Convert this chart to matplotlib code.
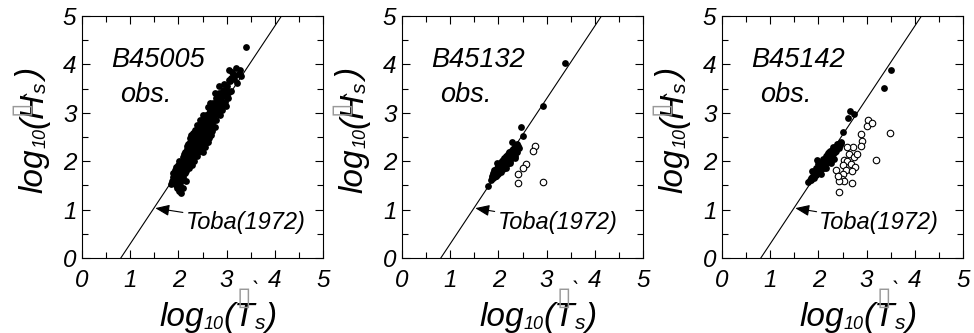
import matplotlib

matplotlib.use("Agg")
import matplotlib.pyplot as plt
from matplotlib.ticker import MultipleLocator
import numpy as np

plt.rcParams["font.family"] = ["Liberation Sans", "DejaVu Sans"]
plt.rcParams["font.style"] = "italic"

# Buoy names
STATIONS = ["B45005", "B45132", "B45142"]

# Toba (1972) 3/2 law: H = B * T^(3/2)
TOBA_B = 0.062
TOBA_POWER = 1.5

# B45005 observations (log10 T*, log10 H*), filled
b45005_x = [1.84, 1.86, 1.88, 1.90, 1.92, 1.95, 1.97, 1.98, 2.02, 2.05, 2.04, 2.00, 2.03, 2.06,
            2.08, 2.10, 2.12, 2.14, 2.15, 2.18, 2.20, 2.22, 2.24, 2.26, 2.28, 2.30, 2.32, 2.34,
            2.36, 2.38, 2.40, 2.42, 2.44, 2.45, 2.47, 2.50, 2.52, 2.54, 2.55, 2.57, 2.60, 2.62,
            2.64, 2.66, 2.68, 2.70, 2.72, 2.75, 2.78, 2.80, 2.84, 2.88, 2.92, 2.95, 3.00, 3.05,
            3.08, 3.12, 3.16, 3.20, 3.25, 3.30, 3.22, 3.40,
            2.25, 2.35, 2.30, 2.20, 2.40, 2.45, 2.50, 2.55, 2.48, 2.60, 2.62, 2.58, 2.70, 2.65,
            2.35, 2.28, 2.18, 2.12, 2.08, 2.16, 2.25, 2.20, 2.02, 1.96, 2.42, 2.52, 2.75, 2.85,
            2.90, 2.66, 3.02, 2.55, 2.38, 2.15, 2.10, 2.00, 1.94, 1.90, 2.07, 2.33, 2.46, 2.72,
            2.82, 2.98, 3.10, 3.14, 3.05, 2.26, 2.44, 2.62, 2.58, 2.36,
            1.88, 1.93, 1.99, 2.05, 2.10, 2.14, 2.19, 2.23, 2.27, 2.31, 2.33, 2.37, 2.41, 2.43,
            2.46, 2.49, 2.51, 2.53, 2.56, 2.59, 2.61, 2.63, 2.67, 2.69, 2.71, 2.73, 2.76, 2.79,
            2.81, 2.83, 2.86, 2.89, 2.93, 2.96, 2.99, 2.94, 3.04, 3.10, 2.40, 2.48, 2.64, 2.70,
            2.78, 2.24, 2.30, 2.38, 2.44, 2.19, 2.28, 2.13, 2.07, 1.97, 1.92, 2.22, 2.32, 2.50,
            2.60, 2.68, 2.76, 2.86, 2.92, 3.00, 3.18, 3.28, 2.17, 2.26, 2.34, 2.52, 2.65, 2.62]
b45005_y = [1.52, 1.60, 1.68, 1.55, 1.72, 1.62, 1.80, 1.45, 1.38, 1.35, 1.50, 1.70, 1.85, 1.78,
            1.95, 1.68, 2.02, 1.88, 2.10, 1.98, 2.20, 2.05, 2.28, 2.15, 2.35, 2.22, 2.45, 2.30,
            2.52, 2.40, 2.60, 2.48, 2.35, 2.68, 2.55, 2.75, 2.62, 2.45, 2.85, 2.70, 2.92, 2.78,
            3.00, 2.85, 3.10, 2.95, 3.20, 3.05, 3.30, 3.15, 3.40, 3.25, 3.48, 3.35, 3.55, 3.42,
            3.65, 3.85, 3.70, 3.92, 3.80, 3.75, 3.62, 4.35,
            2.40, 2.20, 2.05, 2.35, 2.30, 2.50, 2.40, 2.60, 2.80, 2.65, 2.55, 2.95, 2.80, 2.72,
            2.65, 2.50, 2.25, 2.15, 1.88, 1.80, 1.95, 1.90, 2.00, 1.88, 2.72, 2.95, 3.40, 3.55,
            3.05, 3.20, 3.30, 2.30, 2.10, 1.60, 1.45, 1.55, 1.50, 1.60, 1.62, 2.38, 2.42, 2.70,
            2.98, 3.15, 3.45, 3.75, 3.88, 2.10, 2.25, 2.40, 2.75, 2.12,
            1.75, 1.82, 1.93, 1.98, 2.08, 2.20, 2.12, 2.00, 2.22, 2.32, 2.15, 2.35, 2.40, 2.58,
            2.62, 2.45, 2.68, 2.52, 2.75, 2.58, 2.85, 2.70, 2.92, 2.78, 3.02, 2.90, 3.12, 3.00,
            3.25, 3.08, 3.30, 3.15, 3.38, 3.22, 3.45, 3.60, 3.68, 3.72, 2.20, 2.35, 2.48, 2.62,
            2.85, 2.48, 2.58, 2.75, 2.85, 2.05, 1.92, 1.75, 1.62, 1.68, 1.58, 1.85, 2.00, 2.18,
            2.40, 2.55, 2.70, 2.95, 3.18, 3.35, 3.78, 3.88, 2.32, 2.55, 2.48, 2.85, 3.05, 3.12]
b45005_ox = []
b45005_oy = []

# B45132 observations, filled and open
b45132_x = [1.78, 1.84, 1.86, 1.88, 1.90, 1.92, 1.94, 1.96, 1.98, 2.00, 2.02, 2.04, 2.06, 2.08,
            2.10, 2.12, 2.14, 2.16, 2.18, 2.20, 2.22, 2.24, 2.26, 2.28, 2.30, 2.33, 2.36, 2.40,
            1.90, 1.95, 2.00, 2.05, 2.10, 2.15, 2.20, 2.25, 2.30, 2.35, 1.88, 1.98, 2.08, 2.18,
            2.28, 2.38, 2.29, 2.47, 2.50, 2.93, 3.38,
            1.86, 1.89, 1.91, 1.93, 1.95, 1.97, 1.99, 2.01, 2.03, 2.05, 2.07, 2.09, 2.11, 2.13,
            2.15, 2.17, 2.19, 2.21, 2.23, 2.25, 2.27, 2.29, 2.31, 2.33, 2.35, 2.37, 2.39, 2.42,
            2.04, 2.14, 2.24, 2.34, 1.96, 2.10]
b45132_y = [1.48, 1.62, 1.70, 1.66, 1.76, 1.72, 1.80, 1.76, 1.84, 1.80, 1.88, 1.84, 1.92, 1.88,
            1.96, 1.94, 2.00, 1.98, 2.04, 2.06, 2.08, 2.12, 2.14, 2.18, 2.20, 2.24, 2.28, 2.32,
            1.82, 1.70, 1.92, 1.78, 2.02, 1.86, 2.12, 1.96, 2.26, 2.06, 1.76, 1.96, 2.00, 1.94,
            2.08, 2.20, 2.40, 2.70, 2.53, 3.14, 4.02,
            1.66, 1.72, 1.68, 1.82, 1.78, 1.86, 1.74, 1.90, 1.96, 1.86, 2.00, 1.92, 2.06, 1.98,
            2.10, 2.04, 2.14, 2.00, 2.18, 2.08, 2.22, 2.12, 2.26, 2.16, 2.32, 2.22, 2.36, 2.28,
            1.80, 1.90, 2.00, 2.10, 1.70, 1.84]
b45132_ox = [2.76, 2.72, 2.57, 2.50, 2.41, 2.40, 2.92]
b45132_oy = [2.31, 2.21, 1.94, 1.85, 1.74, 1.54, 1.57]

# B45142 observations, filled and open
b45142_x = [1.79, 1.82, 1.85, 1.88, 1.90, 1.92, 1.94, 1.97, 2.00, 2.02, 2.04, 2.06, 2.08, 2.10,
            2.12, 2.14, 2.16, 2.18, 2.20, 2.22, 2.25, 2.28, 2.30, 2.33, 2.36, 2.40, 2.44, 2.47,
            1.95, 2.00, 2.05, 2.10, 2.15, 2.20, 2.25, 2.30, 2.35, 1.86, 2.12, 2.24, 2.38,
            1.97, 2.50, 2.62, 2.66, 2.73, 3.36, 3.50,
            1.84, 1.87, 1.91, 1.93, 1.96, 1.99, 2.01, 2.03, 2.06, 2.08, 2.11, 2.13, 2.16, 2.18,
            2.21, 2.23, 2.26, 2.28, 2.31, 2.34, 2.37, 2.40, 2.43, 2.46, 2.06, 2.16, 2.26, 2.32]
b45142_y = [1.58, 1.62, 1.66, 1.70, 1.74, 1.72, 1.78, 1.80, 1.84, 1.82, 1.88, 1.86, 1.92, 1.96,
            1.94, 2.00, 2.02, 2.06, 2.08, 2.10, 2.14, 2.18, 2.20, 2.24, 2.28, 2.30, 2.34, 2.38,
            1.86, 1.94, 1.96, 2.04, 2.10, 2.16, 2.22, 2.30, 2.20, 1.80, 1.86, 2.00, 2.36,
            2.03, 2.61, 2.89, 3.03, 2.97, 3.52, 3.88,
            1.62, 1.68, 1.66, 1.76, 1.72, 1.80, 1.76, 1.90, 1.84, 1.98, 1.90, 2.04, 1.96, 2.12,
            2.02, 2.18, 2.08, 2.24, 2.14, 2.30, 2.22, 2.36, 2.28, 2.40, 1.74, 1.86, 1.96, 2.05]
b45142_ox = [3.02, 3.00, 3.12, 3.48, 3.20, 2.88, 2.91, 2.89, 2.71, 2.64, 2.53, 2.60, 2.74, 2.52,
             2.67, 2.75, 2.57, 2.69, 2.50, 2.48, 2.53, 2.42, 2.69, 2.42, 2.60, 2.36, 2.40, 2.81]
b45142_oy = [2.85, 2.73, 2.78, 2.58, 2.03, 2.56, 2.42, 2.32, 2.29, 2.15, 2.03, 2.01, 2.08, 1.93,
             1.94, 1.88, 1.81, 1.79, 1.74, 1.63, 1.60, 1.60, 1.55, 1.36, 2.29, 1.81, 1.70, 2.15]

filled = [(b45005_x, b45005_y), (b45132_x, b45132_y), (b45142_x, b45142_y)]
hollow = [(b45005_ox, b45005_oy), (b45132_ox, b45132_oy), (b45142_ox, b45142_oy)]

# Where the "Toba(1972)" label starts in each panel
toba_text_x = [2.15, 1.98, 2.02]


def chain_label(ax, pieces, xy, rotation=0):
    # Write a label piece by piece so the subscripts can be small
    first = ax.text(xy[0], xy[1], pieces[0][0], transform=ax.transAxes, fontsize=pieces[0][1],
                    rotation=rotation, ha="left" if rotation == 0 else "right",
                    va="bottom", rotation_mode="default")
    prev = first
    for txt, size in pieces[1:]:
        if rotation == 0:
            prev = ax.annotate(txt, xy=(1, 0), xycoords=prev, fontsize=size,
                               ha="left", va="bottom")
        else:
            prev = ax.annotate(txt, xy=(1, 1), xycoords=prev, fontsize=size,
                               ha="right", va="bottom", rotation=rotation)
    return first


fig = plt.figure(figsize=(9.74, 3.33), dpi=100)
lefts = [82 / 974, 402 / 974, 722 / 974]

for i, name in enumerate(STATIONS):
    ax = fig.add_axes([lefts[i], 75 / 333, 241 / 974, 242 / 333])

    # Toba line
    xs = np.array([0.0, 5.0])
    ax.plot(xs, TOBA_POWER * xs + np.log10(TOBA_B), color="black", lw=0.8, zorder=2)

    # Observations
    fx, fy = filled[i]
    ax.scatter(fx, fy, s=24, color="black", linewidths=0, zorder=3)
    ox, oy = hollow[i]
    if ox:
        ax.scatter(ox, oy, s=22, facecolors="white", edgecolors="black", linewidths=0.8, zorder=3)

    # Customize
    ax.set_xlim(0, 5)
    ax.set_ylim(0, 5)
    ax.xaxis.set_major_locator(MultipleLocator(1))
    ax.yaxis.set_major_locator(MultipleLocator(1))
    ax.xaxis.set_minor_locator(MultipleLocator(0.5))
    ax.yaxis.set_minor_locator(MultipleLocator(0.5))
    ax.tick_params(which="both", direction="in", top=True, right=True, labelsize=17.5, width=0.8)
    ax.tick_params(which="major", length=6)
    ax.tick_params(which="minor", length=4.5)
    ax.tick_params(axis="x", pad=8)
    ax.tick_params(axis="y", pad=4)
    for sp in ax.spines.values():
        sp.set_linewidth(0.8)

    # Station name
    ax.text(0.6, 3.95, name, fontsize=19.5)
    ax.text(0.8, 3.23, "obs.", fontsize=19.5)

    # Toba annotation
    ax.annotate("Toba(1972)", xy=(1.52, 1.03), xytext=(toba_text_x[i], 0.74), fontsize=17,
                va="center",
                arrowprops=dict(arrowstyle="-|>,head_length=0.5,head_width=0.2", color="black",
                                lw=0.8, shrinkA=0, shrinkB=0))

    # Axis labels
    chain_label(ax, [("log", 24), ("10", 13), ("(T", 24), ("s", 15), (")", 24)], (0.32, -0.31))
    chain_label(ax, [("log", 24), ("10", 13), ("(H", 24), ("s", 15), (")", 24)], (-0.135, 0.27),
                rotation=90)

    # Rendering artefacts around the labels
    ax.text(0.67, -0.165, "\u25af", transform=ax.transAxes, fontsize=19, color="#999999",
            ha="center", va="center", fontstyle="normal", family="DejaVu Sans")
    ax.text(0.72, -0.14, "`", transform=ax.transAxes, fontsize=16, ha="center", va="center")
    ax.text(-0.255, 0.62, "\u25af", transform=ax.transAxes, fontsize=19, color="#999999",
            ha="center", va="center", rotation=90, fontstyle="normal", family="DejaVu Sans")
    ax.text(-0.2, 0.68, "`", transform=ax.transAxes, fontsize=16, ha="center", va="center",
            rotation=90)

plt.savefig("out.png", dpi=100)
